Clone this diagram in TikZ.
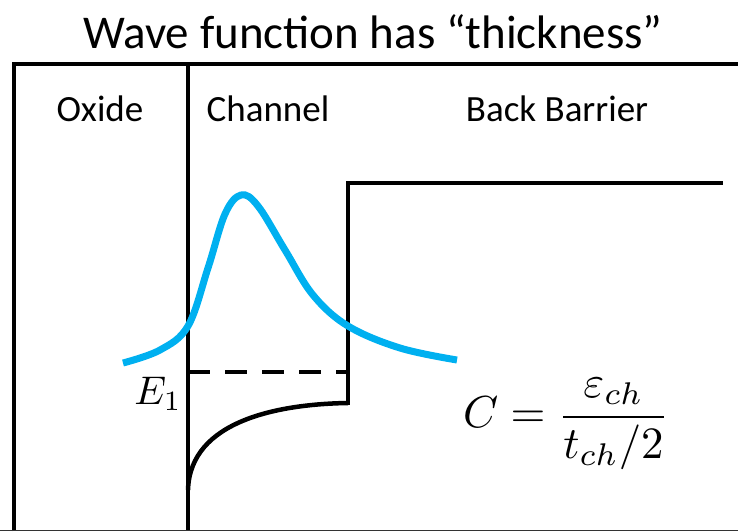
\documentclass[tikz,border=0pt]{standalone}
\usepackage{amsmath, amssymb, xcolor, tikz}
\usepackage{fontspec}
\setmainfont{Carlito}
\definecolor{wavecyan}{RGB}{0,176,240}

\begin{document}
\begin{tikzpicture}[x=1pt, y=-1pt,
    band/.style={line width=4.5pt},
    lbl/.style={anchor=base, font=\fontsize{37}{44}\selectfont, inner sep=0pt},
    eqn/.style={inner sep=0pt, scale=4}]
  \useasboundingbox (0,0) rectangle (738,531);
  % Title
  \node[anchor=base, inner sep=0pt, font=\fontsize{47}{56}\selectfont] (title) at (373,48) {Wave function has “thickness”};
  % Outer frame and oxide/channel interface
  \draw[band, line cap=butt] (14,531) -- (14,64) -- (738,64);
  \draw[band] (188,64) -- (188,531);
  \draw[line width=1pt, black!80] (0,530.5) -- (738,530.5);
  % Region labels
  \node[lbl] (oxide) at (100,121) {Oxide};
  \node[lbl] (channel) at (268,121) {Channel};
  \node[lbl] (barrier) at (557,121) {Back Barrier};
  % Back barrier step
  \draw[band] (348,405) -- (348,183) -- (723,183);
  % Conduction band edge in the channel
  \draw[band] (188,490) .. controls (190,420) and (280,404) .. (348,403);
  % First subband level
  \draw[band, dash pattern=on 22pt off 15pt] (188,372) -- (348,372);
  \node[eqn] (e1) at (158,394) {$E_1$};
  % Wave function
  \draw[wavecyan, line width=7pt, line cap=butt] plot[smooth, tension=0.6] coordinates
    {(123,363) (160,350) (188,326) (208,268) (225,214) (241,195) (258,206) (285,250)
     (313,295) (348,326) (400,348) (457,360)};
  % Capacitance
  \node[eqn, scale=1.12] (cap) at (566,424) {$C=\dfrac{\varepsilon_{ch}}{t_{ch}/2}$};
\end{tikzpicture}
\end{document}
